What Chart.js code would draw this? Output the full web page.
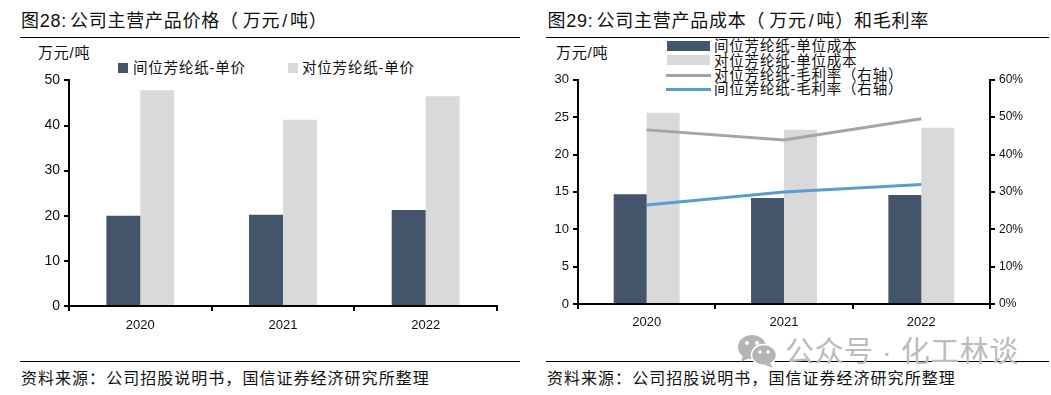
<!DOCTYPE html>
<html lang="zh"><head><meta charset="utf-8">
<script src="https://cdn.jsdelivr.net/npm/chart.js@4"></script>
<style>
html,body{margin:0;padding:0;background:#fff;width:1051px;height:395px;overflow:hidden}
body{font-family:"Liberation Sans","Noto Sans CJK SC",sans-serif;color:#111}
.a{position:absolute;white-space:nowrap;line-height:1}
canvas{position:absolute}
.title{font-size:18px;letter-spacing:.75px;top:12px}
.title .c{margin-right:3px}.title .p{margin-right:4px}.title .s{margin:0 2px}
.foot{font-size:16px;letter-spacing:1.03px;top:371px}
.unit{font-size:15px;letter-spacing:.8px;top:45px}
.rule{position:absolute;height:1px;background:#000}
.leg{font-size:14.5px;letter-spacing:.8px}
.sw{position:absolute}
.wm{font-size:29px;color:#bcbcbc;top:338px;letter-spacing:.5px}
</style></head><body>
<div id="texts"></div>
<canvas id="c1"></canvas>
<canvas id="c2"></canvas>
<svg class="sw" style="left:737px;top:334px" width="42" height="34" viewBox="0 0 42 34">
<ellipse cx="15" cy="13" rx="14" ry="12" fill="#b4b4b4"/><path d="M6 21 L4 28 L12 24Z" fill="#b4b4b4"/>
<circle cx="10" cy="9" r="2" fill="#fff"/><circle cx="20" cy="9" r="2" fill="#fff"/>
<ellipse cx="27" cy="21" rx="12.5" ry="10.5" fill="#b4b4b4" stroke="#fff" stroke-width="1.5"/><path d="M33 29 L36 34 L28 31Z" fill="#b4b4b4"/>
<circle cx="23" cy="18" r="1.7" fill="#fff"/><circle cx="31" cy="18" r="1.7" fill="#fff"/>
</svg>
<script>
const years = ['2020','2021','2022'];
const priceMeta = [20.0, 20.2, 21.3];
const pricePara = [47.8, 41.3, 46.5];
const costMeta = [14.7, 14.2, 14.6];
const costPara = [25.6, 23.3, 23.6];
const marginPara = [0.466, 0.439, 0.496];
const marginMeta = [0.265, 0.30, 0.32];
const leftTitle = '公司主营产品价格（万元/吨）';
const rightTitle = '公司主营产品成本（万元/吨）和毛利率';
const source = '资料来源：公司招股说明书，国信证券经济研究所整理';
const unit = '万元/吨';
const namePriceMeta = '间位芳纶纸-单价', namePricePara = '对位芳纶纸-单价';
const nameCostMeta = '间位芳纶纸-单位成本', nameCostPara = '对位芳纶纸-单位成本';
const nameMarginPara = '对位芳纶纸-毛利率（右轴）', nameMarginMeta = '间位芳纶纸-毛利率（右轴）';
const DARK='#44546A', LIGHT='#D9D9D9', GRAY='#A5A5A5', BLUE='#5B9BD5';
const FONT='"Liberation Sans","Noto Sans CJK SC",sans-serif';

const T=document.getElementById('texts');
function txt(s,x,cls,y){const d=document.createElement('div');d.className='a '+cls;d.textContent=s;d.style.left=x+'px';if(y!=null)d.style.top=y+'px';T.appendChild(d);return d;}
function title(prefix,s,x){const d=txt('',x,'title');
  d.innerHTML=prefix+'<span class="c">:</span>'+s.replace('/','<span class="s">/</span>').replace('（','<span class="p">（</span>');}
function rule(x,y,w){const d=document.createElement('div');d.className='rule';d.style.cssText+=`left:${x}px;top:${y}px;width:${w}px`;T.appendChild(d);}
function box(x,y,w,h,c){const d=document.createElement('div');d.className='sw';d.style.cssText=`left:${x}px;top:${y}px;width:${w}px;height:${h}px;background:${c}`;T.appendChild(d);}

title('图28',leftTitle,21);
title('图29',rightTitle,547.5);
rule(20,37,500);rule(546,37,503);rule(20,361,500);rule(546,361,503);
txt(source,21,'foot');txt(source,547,'foot');
txt(unit,38,'unit');txt(unit,556,'unit');
box(118,63,10,10,DARK);txt(namePriceMeta,133,'leg',61);
box(288,63,10,10,LIGHT);txt(namePricePara,302,'leg',61);
box(667,41,43,10,DARK);txt(nameCostMeta,714,'leg',39);
box(667,55,43,10,LIGHT);txt(nameCostPara,714,'leg',54);
box(666,73.5,45,3,GRAY);txt(nameMarginPara,714,'leg',68);
box(666,87.5,45,3,BLUE);txt(nameMarginMeta,714,'leg',82);
txt('公众号 · 化工林谈',785,'wm');

function place(id,l,t,w,h){const c=document.getElementById(id);c.style.left=l+'px';c.style.top=t+'px';c.style.width=w+'px';c.style.height=h+'px';c.width=w;c.height=h;return c;}
function yAxis(pos,max,step,w,size,cb){return {position:pos,min:0,max:max,
  grid:{drawOnChartArea:false,color:'#000',tickColor:'#000',tickLength:5,lineWidth:2},
  border:{color:'#000',width:2},
  ticks:{stepSize:step,color:'#111',padding:4,font:{family:FONT,size:size},callback:cb||(v=>v)},
  afterFit:s=>{s.width=w;}};}
function xAxis(pad){return {offset:true,
  grid:{offset:true,drawOnChartArea:false,color:'#000',tickColor:'#000',tickLength:5,lineWidth:2},
  border:{color:'#000',width:2},
  ticks:{color:'#111',padding:pad,font:{family:FONT,size:13}},
  afterFit:s=>{s.height=30;}};}
const common={responsive:false,animation:false,plugins:{legend:{display:false},tooltip:{enabled:false}}};

new Chart(place('c1',0,68,520,268),{type:'bar',data:{labels:years,datasets:[
 {label:namePriceMeta,data:priceMeta,backgroundColor:DARK,categoryPercentage:.476,barPercentage:1},
 {label:namePricePara,data:pricePara,backgroundColor:LIGHT,categoryPercentage:.476,barPercentage:1}]},
 options:{...common,layout:{padding:{left:0,right:23,top:0,bottom:0}},
  scales:{x:xAxis(7),y:yAxis('left',50,10,69,14)}}});

new Chart(place('c2',530,68,521,266),{type:'bar',data:{labels:years,datasets:[
 {type:'line',label:nameMarginPara,data:marginPara,yAxisID:'y1',borderColor:GRAY,borderWidth:3,pointRadius:0,tension:0,order:1},
 {type:'line',label:nameMarginMeta,data:marginMeta,yAxisID:'y1',borderColor:BLUE,borderWidth:3,pointRadius:0,tension:0,order:1},
 {label:nameCostMeta,data:costMeta,backgroundColor:DARK,categoryPercentage:.48,barPercentage:1,order:2},
 {label:nameCostPara,data:costPara,backgroundColor:LIGHT,categoryPercentage:.48,barPercentage:1,order:2}]},
 options:{...common,layout:{padding:{left:0,right:0,top:0,bottom:0}},
  scales:{x:xAxis(6),y:yAxis('left',30,5,48,13),
   y1:yAxis('right',0.6,0.1,61,12,v=>Math.round(v*100)+'%')}}});
</script></body></html>
